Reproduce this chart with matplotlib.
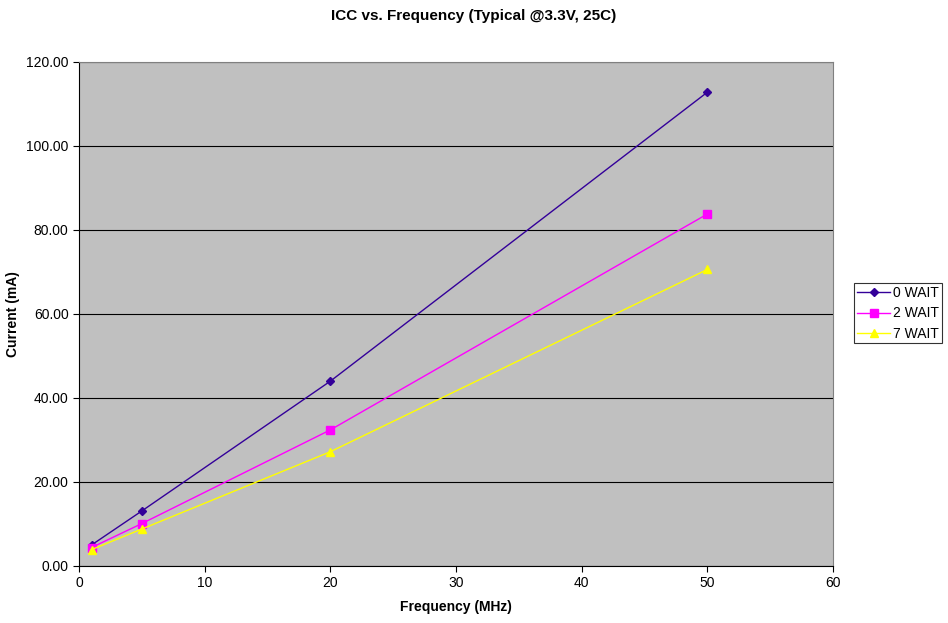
import matplotlib
matplotlib.use("Agg")
import matplotlib.pyplot as plt
from matplotlib.ticker import FormatStrFormatter

plt.rcParams["font.family"] = ["Liberation Sans", "DejaVu Sans"]

freq = [1, 5, 20, 50]
wait0 = [5.0, 13.1, 44.0, 112.8]
wait2 = [4.4, 10.1, 32.4, 83.8]
wait7 = [3.9, 8.8, 27.2, 70.6]
labels = ["0 WAIT", "2 WAIT", "7 WAIT"]
colors = ["#330099", "#FF00FF", "#FFFF00"]
markers = ["D", "s", "^"]

fig = plt.figure(figsize=(9.48, 6.23), dpi=100)
ax = fig.add_axes([0.0833, 0.0915, 0.7954, 0.809])
ax.set_facecolor("#C0C0C0")

for y, lab, c, m in zip([wait0, wait2, wait7], labels, colors, markers):
    ax.plot(freq, y, color=c, marker=m, markersize=4.5 if m == "D" else 5.5,
            linewidth=1, label=lab)

ax.set_xlim(0, 60)
ax.set_ylim(0, 120)
ax.set_xticks(range(0, 61, 10))
ax.set_yticks(range(0, 121, 20))
ax.yaxis.set_major_formatter(FormatStrFormatter("%.2f"))
ax.grid(axis="y", color="black", linewidth=0.8)
ax.set_axisbelow(True)
for s in ["top", "right"]:
    ax.spines[s].set_color("#808080")
for s in ["left", "bottom"]:
    ax.spines[s].set_color("black")
ax.tick_params(labelsize=10, length=4, direction="out")

ax.set_xlabel("Frequency (MHz)", fontsize=10, fontweight="bold", labelpad=7)
ax.set_ylabel("Current (mA)", fontsize=10, fontweight="bold")
fig.suptitle("ICC vs. Frequency (Typical @3.3V, 25C)", fontsize=11,
             fontweight="bold", y=0.985)

leg = fig.legend(loc="center left", bbox_to_anchor=(0.901, 0.497),
                 fontsize=10, frameon=True, fancybox=False,
                 borderpad=0.2, handlelength=2.4, handletextpad=0.2,
                 labelspacing=0.45, borderaxespad=0)
leg.get_frame().set_edgecolor("black")
leg.get_frame().set_linewidth(0.8)

fig.savefig("out.png", dpi=100, facecolor="white")
